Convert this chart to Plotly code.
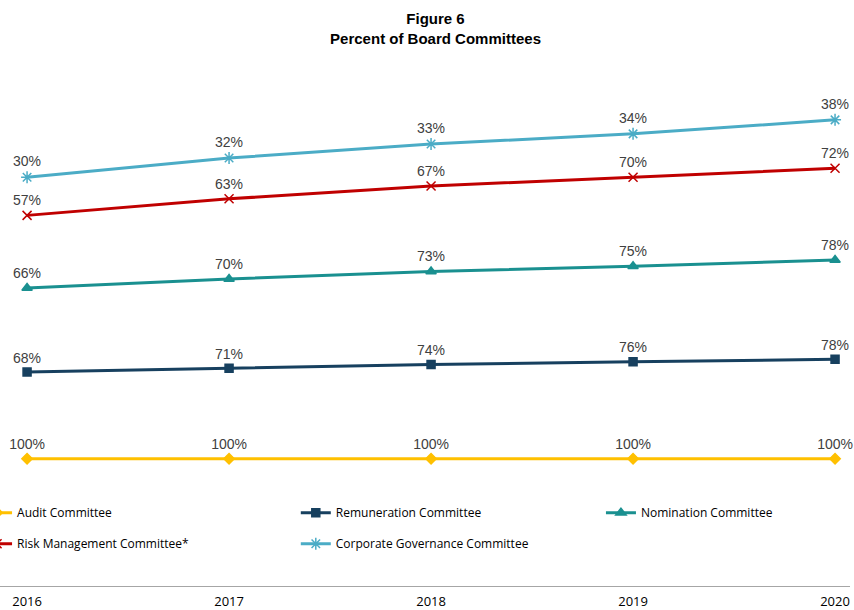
import plotly.graph_objects as go
import numpy as np

years = [2016, 2017, 2018, 2019, 2020]

committees = [
    "Audit Committee",
    "Remuneration Committee",
    "Nomination Committee",
    "Risk Management Committee*",
    "Corporate Governance Committee",
]

audit = [100, 100, 100, 100, 100]
remuneration = [68, 71, 74, 76, 78]
nomination = [66, 70, 73, 75, 78]
risk_management = [57, 63, 67, 70, 72]
corporate_governance = [30, 32, 33, 34, 38]

series_values = [audit, remuneration, nomination, risk_management, corporate_governance]

colors = ["#FFC000", "#17405F", "#1A9090", "#C00000", "#4BACC6"]
symbols = ["diamond", "square", "triangle-up", "x-thin-open", "asterisk-open"]
marker_sizes = [8, 8, 9, 9, 10]
# legend columns: first column Audit / Risk, second Remuneration / Corporate Governance, third Nomination
legend_ids = ["legend", "legend2", "legend3", "legend", "legend2"]

fig = go.Figure()

# stacked lines: each series sits on top of the running total of the ones below
running = np.zeros(len(years))
for name, vals, color, sym, msize, lg in zip(committees, series_values, colors,
                                             symbols, marker_sizes, legend_ids):
    running = running + np.array(vals)
    fig.add_trace(go.Scatter(
        x=years,
        y=running.tolist(),
        name=name,
        legend=lg,
        legendgroup=name,
        mode="lines+markers+text",
        line=dict(color=color, width=3),
        marker=dict(symbol=sym, size=msize, color=color,
                    line=dict(color=color, width=1.5)),
        text=[f"{v}%" for v in vals],
        textposition="top center",
        textfont=dict(family="Liberation Sans, Arial, sans-serif", size=14, color="#404040"),
        cliponaxis=False,
        hovertemplate="%{text}<extra>" + name + "</extra>",
    ))

legend_style = dict(
    orientation="v",
    xanchor="left",
    y=0.167, yanchor="top",
    font=dict(family="Open Sans, sans-serif", size=12, color="#000000"),
    bgcolor="rgba(0,0,0,0)",
    tracegroupgap=12,
    itemwidth=30,
    traceorder="grouped",
)

fig.update_layout(
    width=854,
    height=610,
    paper_bgcolor="white",
    plot_bgcolor="white",
    margin=dict(l=0, r=4, t=60, b=24, autoexpand=False),
    title=dict(
        text="<b>Figure 6<br>Percent of Board Committees</b>",
        x=0.51, xanchor="center", y=0.96, yanchor="top",
        font=dict(family="Liberation Sans, Arial, sans-serif", size=15, color="#000000"),
    ),
    xaxis=dict(
        range=[2015.866, 2020.074],
        tickmode="array",
        tickvals=years,
        ticktext=[str(y) for y in years],
        showgrid=False,
        zeroline=False,
        showline=True,
        linecolor="#A6A6A6",
        linewidth=1,
        ticks="",
        ticklabelstandoff=3,
        tickfont=dict(family="Open Sans, sans-serif", size=13, color="#000000"),
        fixedrange=True,
    ),
    yaxis=dict(
        range=[0, 413],
        visible=False,
        fixedrange=True,
    ),
    legend=dict(x=-0.027, **legend_style),
    legend2=dict(x=0.348, **legend_style),
    legend3=dict(x=0.707, **legend_style),
    showlegend=True,
)

fig.write_html("out.html")
